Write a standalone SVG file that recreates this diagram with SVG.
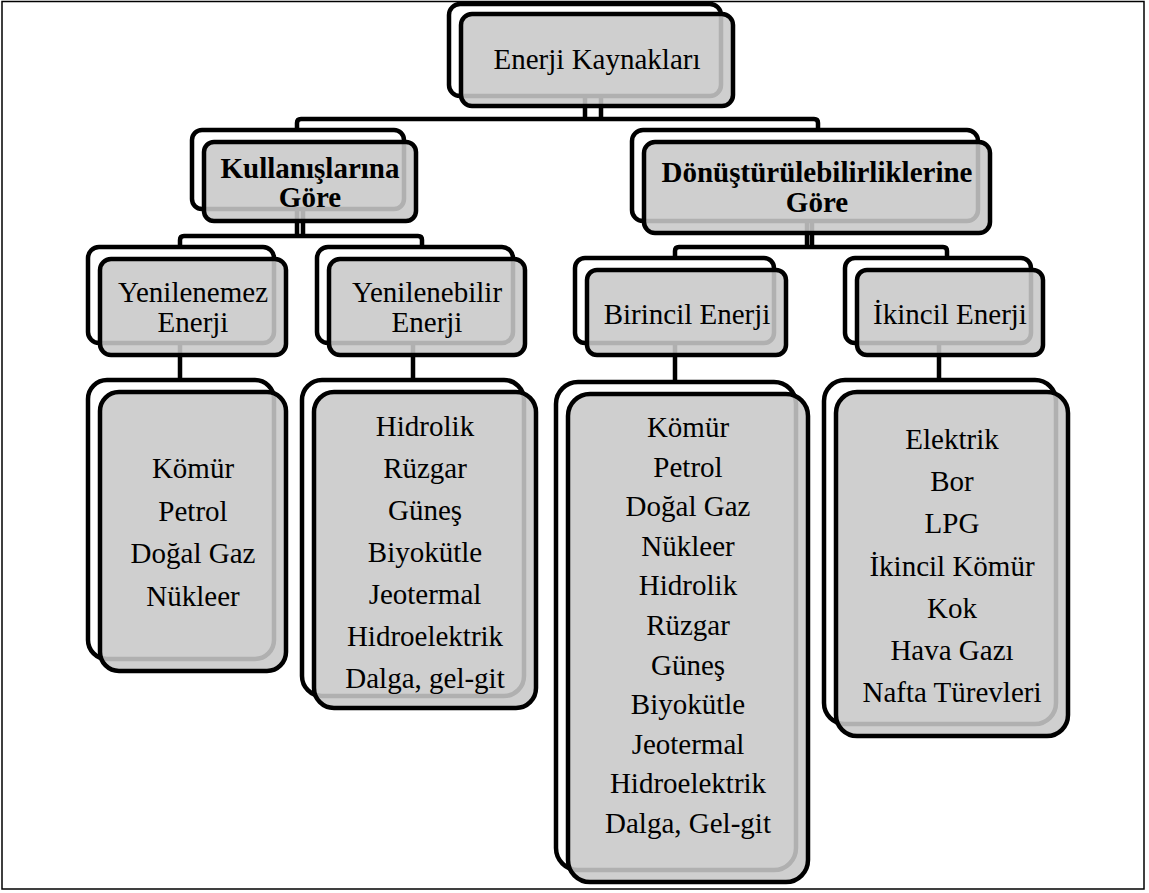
<svg xmlns="http://www.w3.org/2000/svg" width="1149" height="893" viewBox="0 0 1149 893">
<style>
.back{fill:#ffffff;stroke:#000;stroke-width:4.5}
.front{fill:#c8c8c8;fill-opacity:0.88;stroke:#000;stroke-width:4.5}
.conn{fill:none;stroke:#000;stroke-width:4.5}
.t{font-family:"Times New Roman",Times,"Liberation Serif","DejaVu Serif","Noto Serif",serif;font-size:29px;fill:#000;text-anchor:middle}
.b{font-weight:bold}
</style>
<rect x="2" y="1.5" width="1142" height="887.5" fill="#fff" stroke="#000" stroke-width="1.5"/>
<g id="connectors">
<path class="conn" d="M585,88 V119 M601,88 V119"/>
<path class="conn" d="M297,130 V123 Q297,119 301,119 H814 Q818,119 818,123 V130"/>
<path class="conn" d="M297,200 V236 M303,200 V236"/>
<path class="conn" d="M180,247 V240 Q180,236 184,236 H418 Q422,236 422,240 V247"/>
<path class="conn" d="M807,214 V247 M812,214 V247"/>
<path class="conn" d="M675,258 V251 Q675,247 679,247 H943 Q947,247 947,251 V258"/>
<path class="conn" d="M180,335 V380 M413,335 V380 M675,335 V382 M939,335 V380"/>
</g>
<g id="n-enerji-kaynaklari" class="t">
<rect class="back" x="449" y="4" width="272" height="92" rx="11"/>
<rect class="front" x="461" y="14" width="272" height="92" rx="11"/>
<text x="597" y="69">Enerji Kaynakları</text>
</g>
<g id="n-kullanislarina" class="t">
<rect class="back" x="192" y="130" width="212" height="79" rx="10"/>
<rect class="front" x="204" y="142" width="212" height="79" rx="10"/>
<text class="b" x="310" y="178">Kullanışlarına</text>
<text class="b" x="310" y="207">Göre</text>
</g>
<g id="n-donusturulebilirliklerine" class="t">
<rect class="back" x="632" y="130" width="346" height="91" rx="11"/>
<rect class="front" x="644" y="142" width="346" height="91" rx="11"/>
<text class="b" x="817" y="182">Dönüştürülebilirliklerine</text>
<text class="b" x="817" y="212">Göre</text>
</g>
<g id="n-yenilenemez" class="t">
<rect class="back" x="88" y="247" width="186" height="96" rx="11"/>
<rect class="front" x="100" y="259" width="186" height="96" rx="11"/>
<text x="193" y="302">Yenilenemez</text>
<text x="193" y="332">Enerji</text>
</g>
<g id="n-yenilenebilir" class="t">
<rect class="back" x="317" y="247" width="196" height="96" rx="11"/>
<rect class="front" x="329" y="259" width="196" height="96" rx="11"/>
<text x="427" y="302">Yenilenebilir</text>
<text x="427" y="332">Enerji</text>
</g>
<g id="n-birincil" class="t">
<rect class="back" x="575" y="258" width="199" height="85" rx="10"/>
<rect class="front" x="587" y="270" width="199" height="85" rx="10"/>
<text x="687" y="324">Birincil Enerji</text>
</g>
<g id="n-ikincil" class="t">
<rect class="back" x="845" y="258" width="186" height="85" rx="10"/>
<rect class="front" x="857" y="270" width="186" height="85" rx="10"/>
<text x="950" y="324">İkincil Enerji</text>
</g>
<g id="n-list-yenilenemez" class="t">
<rect class="back" x="88" y="380" width="186" height="279" rx="19"/>
<rect class="front" x="100" y="392" width="186" height="279" rx="19"/>
<text x="193" y="478">Kömür</text>
<text x="193" y="520.5">Petrol</text>
<text x="193" y="563">Doğal Gaz</text>
<text x="193" y="605.5">Nükleer</text>
</g>
<g id="n-list-yenilenebilir" class="t">
<rect class="back" x="302" y="380" width="222" height="316" rx="20"/>
<rect class="front" x="314" y="392" width="222" height="316" rx="20"/>
<text x="425" y="436">Hidrolik</text>
<text x="425" y="478">Rüzgar</text>
<text x="425" y="520">Güneş</text>
<text x="425" y="562">Biyokütle</text>
<text x="425" y="604">Jeotermal</text>
<text x="425" y="646">Hidroelektrik</text>
<text x="425" y="688">Dalga, gel-git</text>
</g>
<g id="n-list-birincil" class="t">
<rect class="back" x="556" y="382" width="240" height="488" rx="22"/>
<rect class="front" x="568" y="394" width="240" height="488" rx="22"/>
<text x="688" y="437">Kömür</text>
<text x="688" y="476.6">Petrol</text>
<text x="688" y="516.2">Doğal Gaz</text>
<text x="688" y="555.8">Nükleer</text>
<text x="688" y="595.4">Hidrolik</text>
<text x="688" y="635">Rüzgar</text>
<text x="688" y="674.6">Güneş</text>
<text x="688" y="714.2">Biyokütle</text>
<text x="688" y="753.8">Jeotermal</text>
<text x="688" y="793.4">Hidroelektrik</text>
<text x="688" y="833">Dalga, Gel-git</text>
</g>
<g id="n-list-ikincil" class="t">
<rect class="back" x="824" y="380" width="232" height="344" rx="21"/>
<rect class="front" x="836" y="392" width="232" height="344" rx="21"/>
<text x="952" y="449">Elektrik</text>
<text x="952" y="491.2">Bor</text>
<text x="952" y="533.4">LPG</text>
<text x="952" y="575.6">İkincil Kömür</text>
<text x="952" y="617.8">Kok</text>
<text x="952" y="660">Hava Gazı</text>
<text x="952" y="702.2">Nafta Türevleri</text>
</g>
</svg>
